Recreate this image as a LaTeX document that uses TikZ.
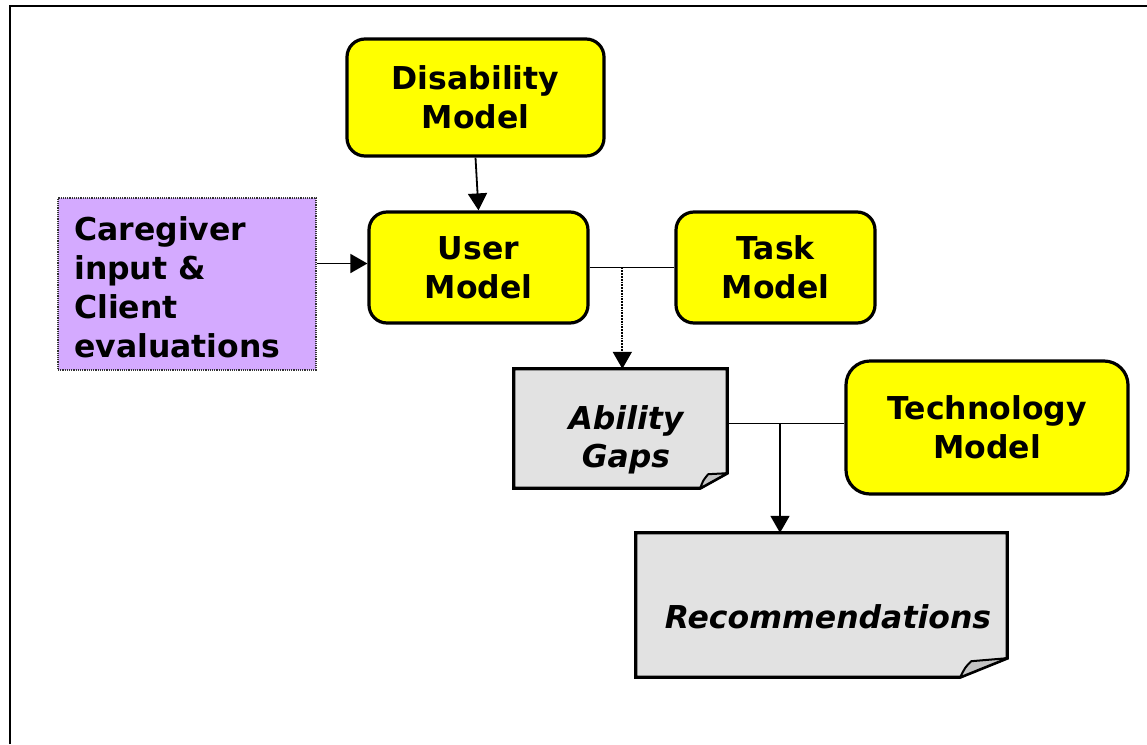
\documentclass[tikz,border=0pt]{standalone}
\usepackage{fontspec}
\setmainfont{DejaVu Sans}
\usetikzlibrary{arrows.meta,calc}
\definecolor{ylw}{RGB}{255,255,0}
\definecolor{lav}{RGB}{212,170,255}
\definecolor{docgray}{RGB}{226,226,226}
\definecolor{foldgray}{RGB}{196,196,196}
\begin{document}
\begin{tikzpicture}[x=1pt,y=-1pt,
  bigfont/.style={font=\bfseries\fontsize{31.5}{39}\selectfont},
  model/.style={bigfont,draw=black,line width=3.2pt,fill=ylw,rounded corners=18pt,align=center,inner sep=0pt},
  docbox/.style={inner sep=0pt},
  docline/.style={draw=black,line width=3.2pt,fill=docgray,line join=miter},
  foldline/.style={draw=black,line width=2pt,fill=foldgray,line join=round},
  doctext/.style={font=\bfseries\itshape\fontsize{31.5}{38}\selectfont,align=center,inner sep=0pt},
  conn/.style={line width=1.8pt},
  arr/.style={conn,-{Triangle[length=17pt,width=19pt]}}]

\useasboundingbox (0,0) rectangle (1147,744);
\draw[line width=2.8pt] (10,744) -- (10,6) -- (1147,6);

% yellow models
\node[model,minimum width=257pt,minimum height=117pt] (dis) at (475.5,97.5) {Disability\\Model};
\node[model,minimum width=219pt,minimum height=111pt] (user) at (478.5,267.5) {User\\Model};
\node[model,minimum width=199pt,minimum height=111pt] (task) at (775.5,267.5) {Task\\Model};
\node[model,minimum width=282pt,minimum height=133pt,rounded corners=24pt] (tech) at (987,427.5) {Technology\\Model};

% caregiver box
\node[draw=black!80,densely dotted,line width=1.2pt,fill=lav,minimum width=258pt,minimum height=172pt] (cg) at (187,284) {};
\node[bigfont,align=left,anchor=west,inner sep=0pt] (cgt) at (74,287) {Caregiver\\input \&\\Client\\evaluations};

% document shapes
\node[docbox,minimum width=213pt,minimum height=119pt] (ag) at (620.5,428.5) {};
\draw[docline] (ag.north west) -- (ag.north east) -- ($(ag.south east)+(0,-15)$) -- ($(ag.south east)+(-27,0)$) -- (ag.south west) -- cycle;
\draw[foldline] ($(ag.south east)+(-27,0)$) .. controls ($(ag.south east)+(-24,-8)$) .. ($(ag.south east)+(-19,-14)$) -- ($(ag.south east)+(0,-15)$) -- cycle;
\node[doctext] (agt) at (626,440) {Ability\\Gaps};

\node[docbox,minimum width=371pt,minimum height=144pt] (rec) at (821.5,605) {};
\draw[docline] (rec.north west) -- (rec.north east) -- ($(rec.south east)+(0,-19)$) -- ($(rec.south east)+(-47,0)$) -- (rec.south west) -- cycle;
\draw[foldline] ($(rec.south east)+(-47,0)$) .. controls ($(rec.south east)+(-42,-10)$) .. ($(rec.south east)+(-36,-16)$) -- ($(rec.south east)+(0,-19)$) -- cycle;
\node[doctext] (rect) at (828,617) {Recommendations};

% connectors
\draw[arr] (dis.south) -- (user.north);
\coordinate (j3) at ($(user.west)+(0,-4)$);
\draw[arr] (cg.east |- j3) -- (j3);
\draw[conn] (user.east) -- (task.west);
\coordinate (j1) at ($(user.east)!0.386!(task.west)$);
\draw[arr,densely dotted] (j1) -- (j1 |- ag.north);
\coordinate (j0) at ($(ag.east)+(0,-5)$);
\draw[conn] (j0) -- (j0 -| tech.west);
\coordinate (j2) at (780,423.5);
\draw[arr] (j2) -- (j2 |- rec.north);
\end{tikzpicture}
\end{document}
